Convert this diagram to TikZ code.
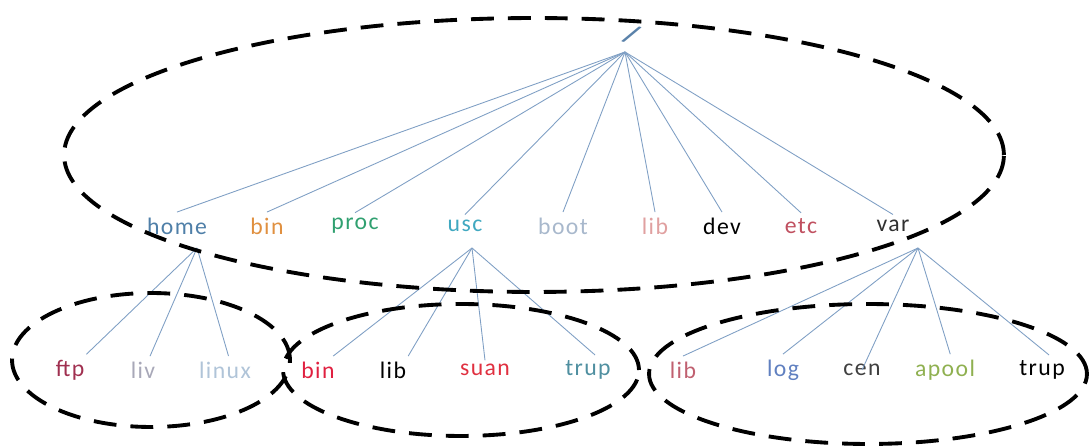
\documentclass[tikz,border=0pt]{standalone}
\usepackage{fontspec}
\setmainfont{Carlito}
\definecolor{cline}{HTML}{7F9FC4}
\definecolor{croot}{HTML}{5A82AA}
\definecolor{chome}{HTML}{4F7FA8}
\definecolor{cbin}{HTML}{E09040}
\definecolor{cproc}{HTML}{30A070}
\definecolor{cusc}{HTML}{40A8C0}
\definecolor{cboot}{HTML}{A8B8CC}
\definecolor{clib}{HTML}{E0A0A0}
\definecolor{cetc}{HTML}{C05060}
\definecolor{cvar}{HTML}{303030}
\definecolor{cftp}{HTML}{A03050}
\definecolor{cliv}{HTML}{A8A8B8}
\definecolor{clinux}{HTML}{B0C4D8}
\definecolor{cbinb}{HTML}{E02040}
\definecolor{csuan}{HTML}{E03040}
\definecolor{ctrup}{HTML}{4F8FA0}
\definecolor{clibv}{HTML}{C06070}
\definecolor{clog}{HTML}{6080C0}
\definecolor{ccen}{HTML}{404040}
\definecolor{capool}{HTML}{8FB050}
\tikzset{
  lbl/.style={font=\fontsize{13.5}{15}\selectfont\addfontfeature{LetterSpace=6}, inner sep=1pt},
  edge/.style={draw=cline, line width=0.5pt},
  group/.style={draw=black, line width=2.2pt, dash pattern=on 13pt off 8pt},
}
\begin{document}
\begin{tikzpicture}[x=0.02cm,y=-0.02cm]
\useasboundingbox (0,0) rectangle (1089,448);
% root
\node[text=croot, font=\bfseries\fontsize{16}{16}\selectfont, rotate=-25, inner sep=0pt] (root) at (632,35) {/};
\coordinate (apex) at (625,52);
% level 1
\node[lbl, text=chome] (home) at (177,226) {home};
\node[lbl, text=cbin] (bin) at (267,226) {bin};
\node[lbl, text=cproc] (proc) at (355,226) {proc};
\node[lbl, text=cusc] (usc) at (465,226) {usc};
\node[lbl, text=cboot] (boot) at (563,226) {boot};
\node[lbl, text=clib] (lib) at (655,226) {lib};
\node[lbl, text=black] (dev) at (722,226) {dev};
\node[lbl, text=cetc] (etc) at (801,226) {etc};
\node[lbl, text=cvar] (var) at (893,226) {var};
\foreach \n in {home,bin,proc,usc,boot,lib,dev,etc,var}
  \draw[edge] (apex) -- ([yshift=2pt]\n.north);
% level 2
\coordinate (homeb) at (197,248);
\coordinate (uscb) at (472,248);
\coordinate (varb) at (918,248);
\node[lbl, text=cftp] (ftp) at (70,370) {ftp};
\node[lbl, text=cliv] (liv) at (143,370) {liv};
\node[lbl, text=clinux] (linux) at (225,370) {linux};
\node[lbl, text=cbinb] (bin2) at (318,370) {bin};
\node[lbl, text=black] (lib2) at (393,370) {lib};
\node[lbl, text=csuan] (suan) at (485,370) {suan};
\node[lbl, text=ctrup] (trup) at (588,370) {trup};
\node[lbl, text=clibv] (lib3) at (683,370) {lib};
\node[lbl, text=clog] (log) at (783,370) {log};
\node[lbl, text=ccen] (cen) at (862,370) {cen};
\node[lbl, text=capool] (apool) at (945,370) {apool};
\node[lbl, text=black] (trup2) at (1042,370) {trup};
\draw[edge] (homeb) -- ([yshift=2pt]ftp.north east);
\draw[edge] (homeb) -- ([xshift=4pt,yshift=2pt]liv.north);
\draw[edge] (homeb) -- ([xshift=2pt,yshift=2pt]linux.north);
\draw[edge] (uscb) -- ([xshift=-2pt,yshift=2pt]bin2.north east);
\draw[edge] (uscb) -- ([yshift=2pt]lib2.north east);
\draw[edge] (uscb) -- ([yshift=1pt]suan.north);
\draw[edge] (uscb) -- ([xshift=4pt,yshift=2pt]trup.north);
\draw[edge] (varb) -- ([yshift=2pt]lib3.north);
\draw[edge] (varb) -- ([yshift=2pt]log.north);
\draw[edge] (varb) -- (cen.center);
\draw[edge] (varb) -- ([xshift=3pt,yshift=2pt]apool.north);
\draw[edge] (varb) -- ([xshift=4pt,yshift=2pt]trup2.north);
% groups
\draw[group] (534,155) ellipse [x radius=9.40cm, y radius=2.74cm];
\draw[group] (151,360) ellipse [x radius=2.78cm, y radius=1.34cm];
\draw[group] (461,370) ellipse [x radius=3.56cm, y radius=1.32cm];
\draw[group] (868,374) ellipse [x radius=4.38cm, y radius=1.40cm];
\end{tikzpicture}
\end{document}
